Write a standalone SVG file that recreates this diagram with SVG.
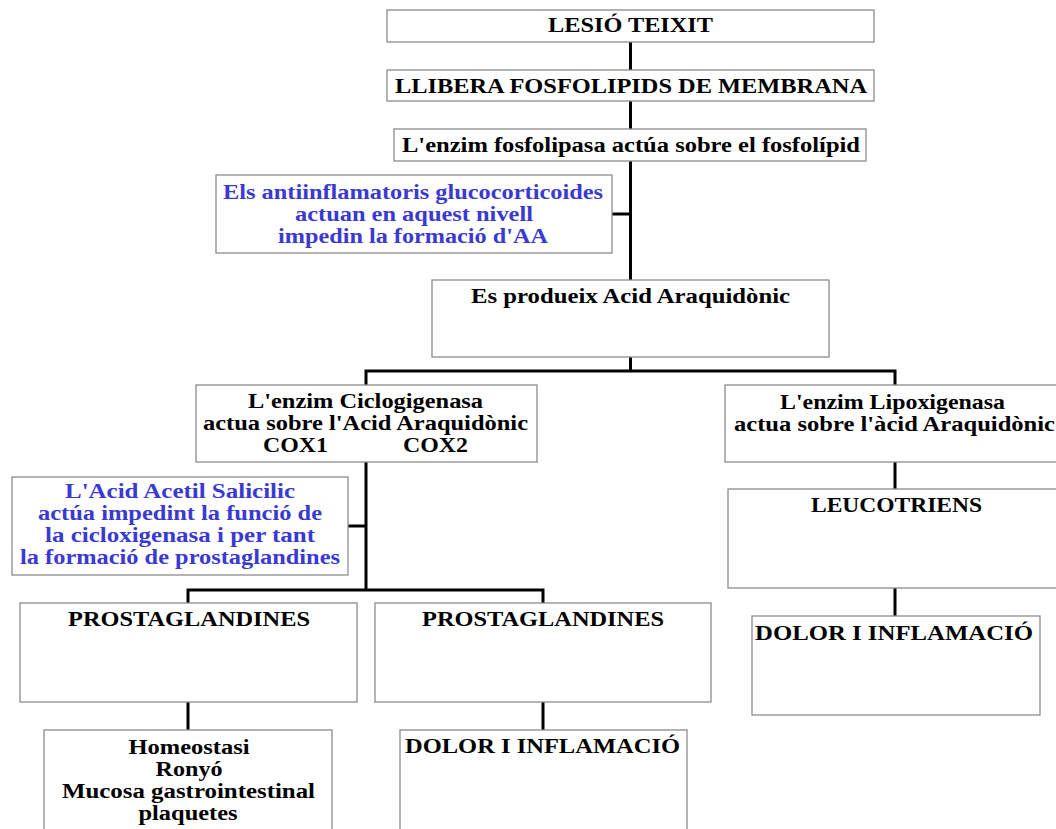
<svg xmlns="http://www.w3.org/2000/svg" width="1056" height="829" viewBox="0 0 1056 829">
  <style>
    .box { fill: #ffffff; stroke: #8c8c8c; stroke-width: 1.3; }
    .t { font-family: "Liberation Serif", "Times New Roman", serif; font-weight: bold; font-size: 20px; fill: #000000; text-anchor: middle; }
    .b { fill: #3a3ad2; }
    .link { fill: none; stroke: #000000; stroke-width: 3; }
  </style>
  <rect width="1056" height="829" fill="#ffffff"/>

  <!-- connectors -->
  <g id="connectors">
    <path class="link" d="M630.5 42 V371"/>
    <path class="link" d="M612 214 H630.5"/>
    <path class="link" d="M366 385 V371 H895 V385"/>
    <path class="link" d="M366 462 V590"/>
    <path class="link" d="M348 526 H366"/>
    <path class="link" d="M188 603 V590 H543 V603"/>
    <path class="link" d="M895 462 V489"/>
    <path class="link" d="M895 588 V616"/>
    <path class="link" d="M188 702 V730"/>
    <path class="link" d="M543 702 V730"/>
  </g>

  <g id="lesio">
    <rect class="box" x="387" y="10" width="487" height="32"/>
    <text class="t" x="630.5" y="32" textLength="165" lengthAdjust="spacingAndGlyphs">LESIÓ TEIXIT</text>
  </g>

  <g id="llibera">
    <rect class="box" x="387" y="70" width="487" height="31"/>
    <text class="t" x="631" y="93" textLength="472" lengthAdjust="spacingAndGlyphs">LLIBERA FOSFOLIPIDS DE MEMBRANA</text>
  </g>

  <g id="fosfolipasa">
    <rect class="box" x="394" y="129" width="472" height="32"/>
    <text class="t" x="631" y="152" textLength="458" lengthAdjust="spacingAndGlyphs">L'enzim fosfolipasa actúa sobre el fosfolípid</text>
  </g>

  <g id="glucocorticoides">
    <rect class="box" x="216" y="175" width="396" height="78"/>
    <text class="t b" x="413" y="199" textLength="380" lengthAdjust="spacingAndGlyphs">Els antiinflamatoris glucocorticoides</text>
    <text class="t b" x="414" y="221" textLength="238" lengthAdjust="spacingAndGlyphs">actuan en aquest nivell</text>
    <text class="t b" x="413" y="243" textLength="270" lengthAdjust="spacingAndGlyphs">impedin la formació d'AA</text>
  </g>

  <g id="araquidonic">
    <rect class="box" x="432" y="280" width="397" height="77"/>
    <text class="t" x="630.5" y="303" textLength="319" lengthAdjust="spacingAndGlyphs">Es produeix Acid Araquidònic</text>
  </g>

  <g id="ciclogigenasa">
    <rect class="box" x="196" y="385" width="341" height="77"/>
    <text class="t" x="365.5" y="408" textLength="235" lengthAdjust="spacingAndGlyphs">L'enzim Ciclogigenasa</text>
    <text class="t" x="365.5" y="430" textLength="325" lengthAdjust="spacingAndGlyphs">actua sobre l'Acid Araquidònic</text>
    <text class="t" x="295.5" y="452" textLength="65" lengthAdjust="spacingAndGlyphs">COX1</text>
    <text class="t" x="435.5" y="452" textLength="65" lengthAdjust="spacingAndGlyphs">COX2</text>
  </g>

  <g id="lipoxigenasa">
    <rect class="box" x="725" y="385" width="345" height="77"/>
    <text class="t" x="892.5" y="409" textLength="225" lengthAdjust="spacingAndGlyphs">L'enzim Lipoxigenasa</text>
    <text class="t" x="894.5" y="431" textLength="321" lengthAdjust="spacingAndGlyphs">actua sobre l'àcid Araquidònic</text>
  </g>

  <g id="salicilic">
    <rect class="box" x="12" y="477" width="336" height="98"/>
    <text class="t b" x="180" y="498" textLength="230" lengthAdjust="spacingAndGlyphs">L'Acid Acetil Salicilic</text>
    <text class="t b" x="180" y="520" textLength="284" lengthAdjust="spacingAndGlyphs">actúa impedint la funció de</text>
    <text class="t b" x="180" y="542" textLength="270" lengthAdjust="spacingAndGlyphs">la cicloxigenasa i per tant</text>
    <text class="t b" x="180" y="564" textLength="320" lengthAdjust="spacingAndGlyphs">la formació de prostaglandines</text>
  </g>

  <g id="leucotriens">
    <rect class="box" x="728" y="489" width="340" height="99"/>
    <text class="t" x="896.5" y="512" textLength="171" lengthAdjust="spacingAndGlyphs">LEUCOTRIENS</text>
  </g>

  <g id="dolor-leucotriens">
    <rect class="box" x="752" y="616" width="288" height="99"/>
    <text class="t" x="894" y="640" textLength="278" lengthAdjust="spacingAndGlyphs">DOLOR I INFLAMACIÓ</text>
  </g>

  <g id="prostaglandines-1">
    <rect class="box" x="20" y="603" width="337" height="99"/>
    <text class="t" x="189" y="626" textLength="242" lengthAdjust="spacingAndGlyphs">PROSTAGLANDINES</text>
  </g>

  <g id="prostaglandines-2">
    <rect class="box" x="375" y="603" width="336" height="99"/>
    <text class="t" x="543" y="626" textLength="242" lengthAdjust="spacingAndGlyphs">PROSTAGLANDINES</text>
  </g>

  <g id="homeostasi">
    <rect class="box" x="44" y="730" width="288" height="110"/>
    <text class="t" x="189" y="754" textLength="121" lengthAdjust="spacingAndGlyphs">Homeostasi</text>
    <text class="t" x="189" y="776" textLength="67" lengthAdjust="spacingAndGlyphs">Ronyó</text>
    <text class="t" x="188.5" y="798" textLength="253" lengthAdjust="spacingAndGlyphs">Mucosa gastrointestinal</text>
    <text class="t" x="188" y="820" textLength="99" lengthAdjust="spacingAndGlyphs">plaquetes</text>
  </g>

  <g id="dolor-prostaglandines">
    <rect class="box" x="400" y="730" width="287" height="110"/>
    <text class="t" x="542.5" y="753" textLength="275" lengthAdjust="spacingAndGlyphs">DOLOR I INFLAMACIÓ</text>
  </g>
</svg>
